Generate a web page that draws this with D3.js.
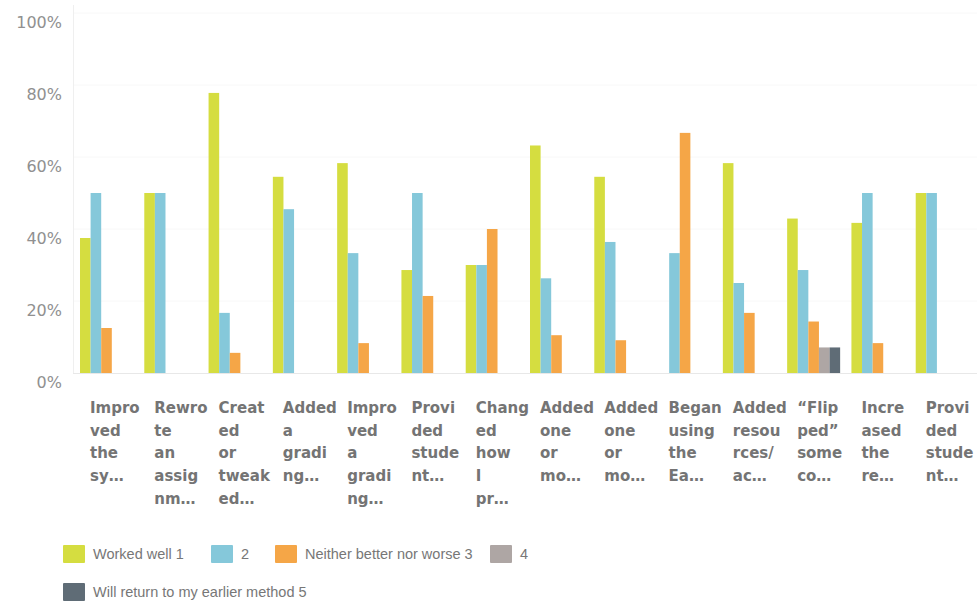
<!DOCTYPE html>
<html>
<head>
<meta charset="utf-8">
<script src="https://cdn.jsdelivr.net/npm/d3@7"></script>
<style>
  html, body { margin: 0; padding: 0; background: #ffffff; }
  svg { display: block; }
</style>
</head>
<body>
<svg id="chart" width="980" height="612"></svg>
<script>
// Category labels, already wrapped and truncated as shown under each group
const categoryLines = [
  ["Impro", "ved", "the", "sy…"],
  ["Rewro", "te", "an", "assig", "nm…"],
  ["Creat", "ed", "or", "tweak", "ed…"],
  ["Added", "a", "gradi", "ng…"],
  ["Impro", "ved", "a", "gradi", "ng…"],
  ["Provi", "ded", "stude", "nt…"],
  ["Chang", "ed", "how", "I", "pr…"],
  ["Added", "one", "or", "mo…"],
  ["Added", "one", "or", "mo…"],
  ["Began", "using", "the", "Ea…"],
  ["Added", "resou", "rces/", "ac…"],
  ["\u201cFlip", "ped\u201d", "some", "co…"],
  ["Incre", "ased", "the", "re…"],
  ["Provi", "ded", "stude", "nt…"]
];

// Series names (legend order)
const seriesNames = ["Worked well 1", "2", "Neither better nor worse 3", "4", "Will return to my earlier method 5"];

// Percent of responses per category, one array per series
const workedWell1    = [37.5, 50, 77.8, 54.5, 58.3, 28.6, 30, 63.2, 54.5, 0,    58.3, 42.9, 41.7, 50];
const rating2        = [50,   50, 16.7, 45.5, 33.3, 50,   30, 26.3, 36.4, 33.3, 25,   28.6, 50,   50];
const neither3       = [12.5, 0,  5.6,  0,    8.3,  21.4, 40, 10.5, 9.1,  66.7, 16.7, 14.3, 8.3,  0];
const rating4        = [0,    0,  0,    0,    0,    0,    0,  0,    0,    0,    0,    7.1,  0,    0];
const returnEarlier5 = [0,    0,  0,    0,    0,    0,    0,  0,    0,    0,    0,    7.1,  0,    0];

const yTicks = [0, 20, 40, 60, 80, 100];

const seriesValues = [workedWell1, rating2, neither3, rating4, returnEarlier5];
const colors = ["#d5dd40", "#85c8da", "#f5a647", "#aea6a4", "#5f6c76"];

const svg = d3.select("#chart");

const plot = { left: 73, right: 977, top: 13, bottom: 373 };

const x = d3.scaleBand()
  .domain(d3.range(categoryLines.length))
  .range([plot.left + 1, plot.right - 3])
  .paddingInner(0)
  .paddingOuter(0);

const xInner = d3.scaleBand()
  .domain(d3.range(seriesNames.length))
  .range([6, 59]);

const y = d3.scaleLinear().domain([0, 100]).range([plot.bottom, plot.top]);

// very faint horizontal gridlines
svg.append("g")
  .selectAll("line")
  .data(yTicks.filter(d => d > 0))
  .join("line")
  .attr("x1", plot.left).attr("x2", plot.right)
  .attr("y1", d => y(d)).attr("y2", d => y(d))
  .attr("stroke", "#f8f8f8")
  .attr("stroke-width", 1);

// y axis
const yAxis = svg.append("g")
  .attr("transform", `translate(${plot.left},0)`)
  .call(d3.axisLeft(y).tickValues(yTicks).tickFormat(d => d + "%").tickSize(0).tickPadding(11));
yAxis.select(".domain").attr("stroke", "#efefef").attr("d", `M0.5,${plot.top - 8}V${plot.bottom}`);
yAxis.selectAll("text")
  .attr("font-family", "DejaVu Sans, sans-serif")
  .attr("font-size", 16)
  .attr("fill", "#909090")
  .attr("dy", "0.9em");

// bars
const groups = svg.append("g")
  .selectAll("g")
  .data(categoryLines.map((_, i) => i))
  .join("g")
  .attr("transform", i => `translate(${x(i)},0)`);

groups.selectAll("rect")
  .data(i => seriesValues.map((vals, s) => ({ s, v: vals[i] })).filter(d => d.v > 0))
  .join("rect")
  .attr("x", d => xInner(d.s))
  .attr("width", xInner.bandwidth())
  .attr("y", d => y(d.v))
  .attr("height", d => y(0) - y(d.v))
  .attr("fill", d => colors[d.s]);

// baseline
svg.append("line")
  .attr("x1", plot.left).attr("x2", plot.right)
  .attr("y1", plot.bottom + 0.5).attr("y2", plot.bottom + 0.5)
  .attr("stroke", "#e8e8e8");

// category labels
const labels = svg.append("g")
  .selectAll("text")
  .data(categoryLines)
  .join("text")
  .attr("x", (d, i) => x(i) + 16)
  .attr("y", 413)
  .attr("font-family", "DejaVu Sans, sans-serif")
  .attr("font-weight", "bold")
  .attr("font-size", 15)
  .attr("fill", "#747474");

labels.selectAll("tspan")
  .data((d, i) => d.map(t => ({ t, i })))
  .join("tspan")
  .attr("x", d => x(d.i) + 16)
  .attr("dy", (d, k) => k === 0 ? 0 : 22.7)
  .text(d => d.t);

// legend
const legendPos = [
  { x: 63, y: 545 },
  { x: 211, y: 545 },
  { x: 275, y: 545 },
  { x: 490, y: 545 },
  { x: 63, y: 583 }
];

const legend = svg.append("g")
  .selectAll("g")
  .data(seriesNames)
  .join("g")
  .attr("transform", (d, i) => `translate(${legendPos[i].x},${legendPos[i].y})`);

legend.append("rect")
  .attr("width", 22)
  .attr("height", 18)
  .attr("rx", 1)
  .attr("fill", (d, i) => colors[i]);

legend.append("text")
  .attr("x", 30)
  .attr("y", 9)
  .attr("dy", "0.36em")
  .attr("font-family", "Liberation Sans, Arial, sans-serif")
  .attr("font-size", 14.5)
  .attr("fill", "#777")
  .text(d => d);
</script>
</body>
</html>
